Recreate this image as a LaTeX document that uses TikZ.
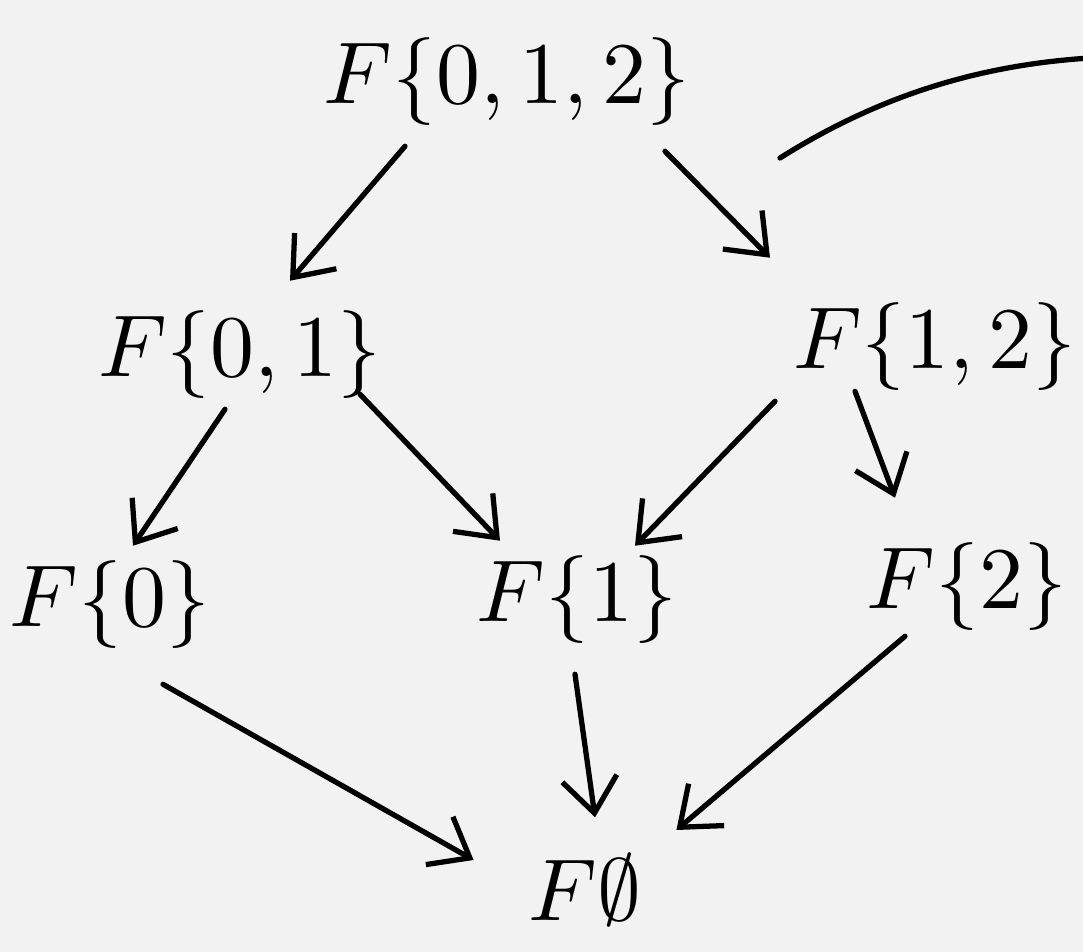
\documentclass[tikz,border=0pt]{standalone}
\usepackage{unicode-math}
\usetikzlibrary{arrows.meta,calc}
\begin{document}
\begin{tikzpicture}[x=0.02cm,y=-0.02cm,
    >={Straight Barb[length=7mm,width=11mm]},line cap=round,line join=round,
    set/.style={inner sep=0pt,font=\fontsize{50}{54}\selectfont},
    arr/.style={->,line width=3pt}]
    % Background and margins of the sketch.
    \fill[black!5] (0,0) rectangle (1083,952);
    \useasboundingbox (0,0) rectangle (1083,952);
    % The subsets, top to bottom.
    \node[set] (t) at (507,82) {$F\{0,1,2\}$};
    \node[set] (a) at (240,355) {$F\{0,1\}$};
    \node[set] (b) at (935,347) {$F\{1,2\}$};
    \node[set] (c) at (110,605) {$F\{0\}$};
    \node[set] (d) at (577,600) {$F\{1\}$};
    \node[set] (e) at (967,587) {$F\{2\}$};
    \node[set] (f) at (585,890) {$F\varnothing$};
    \coordinate (out) at (1090,58);
    % Restriction maps.
    \draw[arr] ($(t.south)+(-102,20)$) -- ($(a.north)+(50,-30)$);
    \draw[arr] ($(t.south)+(158,25)$) -- ($(b.north)+(-165,-45)$);
    \draw[arr] ($(a.south)+(-15,10)$) -- ($(c.north)+(23,-15)$);
    \draw[arr] ($(a.south)+(120,-5)$) -- ($(d.north)+(-77,-15)$);
    \draw[arr] ($(b.south)+(-160,10)$) -- ($(d.north)+(58,-10)$);
    \draw[arr] ($(b.south)+(-80,0)$) -- ($(e.north)+(-72,-45)$);
    \draw[arr] ($(c.south)+(53,35)$) -- ($(f.west)+(-55,-30)$);
    \draw[arr] ($(d.south)+(-2,30)$) -- ($(f.north)+(10,-35)$);
    \draw[arr] ($(e.south)+(-62,5)$) -- ($(f.east)+(35,-60)$);
    % Stray stroke leaving the page.
    \draw[line width=3pt] (780,158) .. controls (880,95) and (980,65) .. (out);
\end{tikzpicture}
\end{document}
